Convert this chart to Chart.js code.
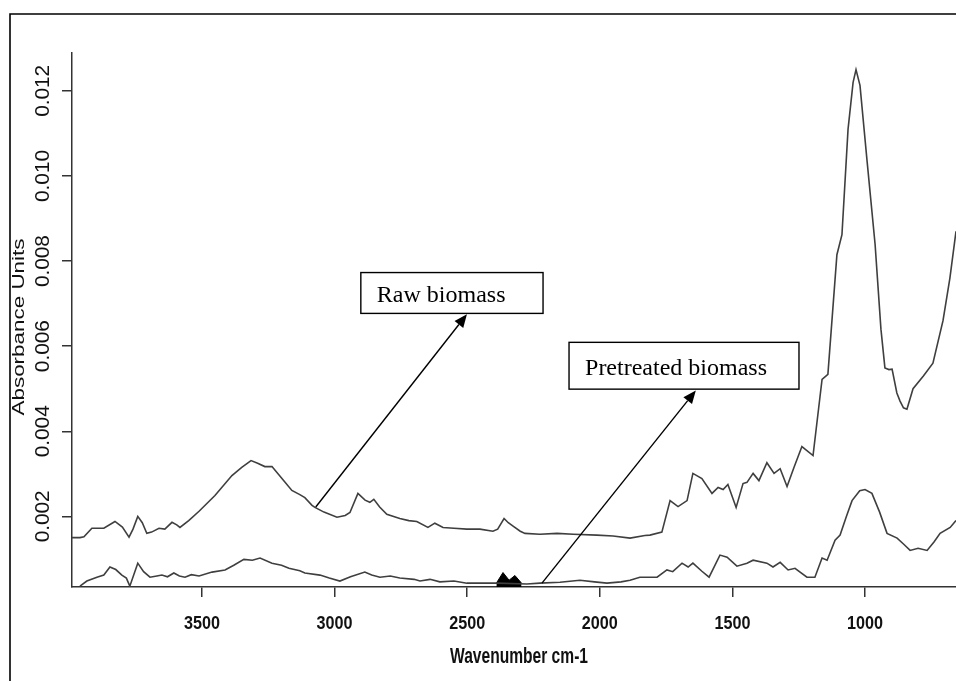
<!DOCTYPE html>
<html>
<head>
<meta charset="utf-8">
<script src="https://cdn.jsdelivr.net/npm/chart.js@4.4.1/dist/chart.umd.min.js"></script>
<style>
  html, body { margin: 0; padding: 0; background: #fff; }
  canvas { display: block; }
</style>
</head>
<body>
<canvas id="ftir-chart" width="956" height="681"></canvas>
<script>
// wavenumber (cm-1) / absorbance pairs
const rawWavenumbers = [
  3990, 3960, 3945, 3915, 3870, 3828, 3800, 3775, 3760, 3742, 3725, 3708, 3690, 3662, 3640,
  3613, 3595, 3583, 3550, 3511, 3451, 3387, 3350, 3315, 3290, 3263, 3236, 3200, 3161, 3131,
  3112, 3085, 3074, 3040, 2991, 2960, 2942, 2912, 2885, 2867, 2852, 2830, 2803, 2754, 2720,
  2690, 2648, 2622, 2591, 2550, 2501, 2452, 2403, 2385, 2361, 2345, 2327, 2300, 2282, 2226,
  2161, 2100, 2011, 1950, 1886, 1830, 1811, 1766, 1735, 1705, 1671, 1649, 1615, 1577, 1554,
  1535, 1517, 1486, 1460, 1445, 1422, 1400, 1370, 1343, 1320, 1294, 1268, 1238, 1196, 1170,
  1162, 1140, 1106, 1087, 1064, 1045, 1034, 1019, 992, 962, 940, 925, 910, 898, 880,
  868, 855, 842, 819, 780, 744, 706, 680, 657
];
const rawAbsorbance = [
  0.00150, 0.00150, 0.00152, 0.00172, 0.00172, 0.00188, 0.00175, 0.00151, 0.00170, 0.00200, 0.00185, 0.00160, 0.00163, 0.00172, 0.00170,
  0.00186, 0.00180, 0.00174, 0.00190, 0.00212, 0.00249, 0.00296, 0.00315, 0.00331, 0.00325, 0.00317, 0.00317, 0.00290, 0.00261, 0.00251,
  0.00244, 0.00226, 0.00221, 0.00210, 0.00198, 0.00202, 0.00209, 0.00254, 0.00238, 0.00233, 0.00240, 0.00222, 0.00205, 0.00195, 0.00190,
  0.00188, 0.00174, 0.00184, 0.00174, 0.00172, 0.00170, 0.00170, 0.00165, 0.00170, 0.00195, 0.00185, 0.00177, 0.00165, 0.00160, 0.00158,
  0.00160, 0.00158, 0.00156, 0.00154, 0.00149, 0.00155, 0.00156, 0.00163, 0.00237, 0.00223, 0.00237, 0.00301, 0.00289, 0.00254, 0.00268,
  0.00263, 0.00275, 0.00221, 0.00277, 0.00280, 0.00301, 0.00284, 0.00326, 0.00301, 0.00312, 0.00270, 0.00315, 0.00364, 0.00343, 0.00480,
  0.00522, 0.00534, 0.00815, 0.00862, 0.01110, 0.01220, 0.01250, 0.01213, 0.01033, 0.00839, 0.00640, 0.00549, 0.00545, 0.00546, 0.00490,
  0.00471, 0.00455, 0.00452, 0.00500, 0.00530, 0.00560, 0.00660, 0.00760, 0.00870
];

const pretreatedWavenumbers = [
  3960, 3934, 3896, 3870, 3847, 3825, 3802, 3785, 3772, 3742, 3720, 3696, 3670, 3651, 3630,
  3606, 3585, 3564, 3540, 3511, 3462, 3413, 3380, 3342, 3310, 3281, 3236, 3200, 3172, 3131,
  3112, 3055, 3020, 2980, 2940, 2886, 2860, 2829, 2790, 2754, 2700, 2678, 2640, 2603, 2550,
  2501, 2388, 2275, 2226, 2150, 2075, 2020, 1973, 1920, 1886, 1849, 1784, 1747, 1725, 1690,
  1667, 1649, 1615, 1588, 1547, 1520, 1483, 1445, 1422, 1370, 1347, 1320, 1290, 1264, 1219,
  1189, 1162, 1143, 1113, 1094, 1070, 1049, 1020, 1000, 974, 945, 917, 879, 855, 830,
  800, 766, 740, 717, 679, 657
];
const pretreatedAbsorbance = [
  0.00036, 0.00048, 0.00057, 0.00062, 0.00081, 0.00075, 0.00062, 0.00055, 0.00036, 0.00090, 0.00070, 0.00057, 0.00060, 0.00062, 0.00058,
  0.00067, 0.00060, 0.00057, 0.00063, 0.00060, 0.00069, 0.00074, 0.00085, 0.00099, 0.00097, 0.00102, 0.00090, 0.00085, 0.00078, 0.00072,
  0.00067, 0.00062, 0.00055, 0.00048, 0.00058, 0.00069, 0.00062, 0.00057, 0.00060, 0.00055, 0.00052, 0.00048, 0.00052, 0.00046, 0.00048,
  0.00043, 0.00043, 0.00041, 0.00043, 0.00045, 0.00050, 0.00046, 0.00043, 0.00046, 0.00050, 0.00057, 0.00057, 0.00074, 0.00070, 0.00090,
  0.00081, 0.00090, 0.00071, 0.00057, 0.00109, 0.00104, 0.00083, 0.00090, 0.00097, 0.00090, 0.00081, 0.00092, 0.00074, 0.00078, 0.00057,
  0.00057, 0.00102, 0.00097, 0.00144, 0.00156, 0.00200, 0.00237, 0.00260, 0.00263, 0.00254, 0.00210, 0.00160, 0.00149, 0.00135, 0.00120,
  0.00125, 0.00120, 0.00140, 0.00160, 0.00174, 0.00190
];

// small filled CO2 band on the pretreated trace
const co2Wavenumbers = [2390, 2365, 2342, 2320, 2295];
const co2Absorbance = [0.00043, 0.00068, 0.00050, 0.00061, 0.00043];

const xTicks = [3500, 3000, 2500, 2000, 1500, 1000];
const yTicks = [0.002, 0.004, 0.006, 0.008, 0.010, 0.012];

const notes = [
  { label: "Raw biomass", box: [2901, 0.00773, 2214, 0.00677], tail: [3071, 0.00222], tip: [2501, 0.00675] },
  { label: "Pretreated biomass", box: [2116, 0.00609, 1249, 0.00499], tail: [2218, 0.00043], tip: [1638, 0.00496] },
];

const Config = {
  line: "#3f3f3f",
  axis: "#333333",
  ink: "#111111",
};

const toPoints = (xs, ys) => xs.map((x, i) => ({ x, y: ys[i] }));

// text squeezed/stretched to a given width, like the original plot's fonts
const drawText = (ctx, text, x, y, font, width, angle = 0) => {
  ctx.save();
  ctx.font = font;
  ctx.textAlign = "center";
  ctx.textBaseline = "middle";
  ctx.translate(x, y);
  ctx.rotate(angle);
  const w = ctx.measureText(text).width;
  if (width) ctx.scale(width / w, 1);
  ctx.fillText(text, 0, 0);
  ctx.restore();
};

const overlay = {
  id: "overlay",
  beforeDraw(chart) {
    const c = chart.ctx;
    c.save();
    c.fillStyle = "#fff";
    c.fillRect(0, 0, chart.width, chart.height);
    // figure frame (cropped on the right and bottom)
    c.strokeStyle = "#000";
    c.lineWidth = 1.6;
    c.beginPath();
    c.moveTo(10, chart.height);
    c.lineTo(10, 14);
    c.lineTo(chart.width, 14);
    c.stroke();
    c.restore();
  },
  afterDraw(chart) {
    const c = chart.ctx;
    const { x, y } = chart.scales;
    c.save();
    c.fillStyle = Config.ink;

    yTicks.forEach((v) => {
      drawText(c, v.toFixed(3), 43, y.getPixelForValue(v), '21px "Liberation Sans", Arial, sans-serif', 52, -Math.PI / 2);
    });
    xTicks.forEach((v) => {
      drawText(c, String(v), x.getPixelForValue(v), 624, 'bold 18px "Liberation Sans", Arial, sans-serif', 36);
    });
    drawText(c, "Wavenumber cm-1", (x.left + x.right) / 2 + 5, 657, 'bold 22px "Liberation Sans", Arial, sans-serif', 138);
    drawText(c, "Absorbance Units", 19, 327, '17px "Liberation Sans", Arial, sans-serif', 177, -Math.PI / 2);

    // callout boxes with arrows
    c.strokeStyle = "#000";
    c.lineWidth = 1.4;
    notes.forEach((n) => {
      const bx0 = x.getPixelForValue(n.box[0]);
      const by0 = y.getPixelForValue(n.box[1]);
      const bx1 = x.getPixelForValue(n.box[2]);
      const by1 = y.getPixelForValue(n.box[3]);
      c.fillStyle = "#fff";
      c.fillRect(bx0, by0, bx1 - bx0, by1 - by0);
      c.strokeRect(bx0, by0, bx1 - bx0, by1 - by0);
      c.fillStyle = "#000";
      c.font = '24px "Liberation Serif", "Times New Roman", serif';
      c.textAlign = "left";
      c.textBaseline = "alphabetic";
      c.fillText(n.label, bx0 + 16, (by0 + by1) / 2 + 9);

      const tx = x.getPixelForValue(n.tail[0]);
      const ty = y.getPixelForValue(n.tail[1]);
      const hx = x.getPixelForValue(n.tip[0]);
      const hy = y.getPixelForValue(n.tip[1]);
      const a = Math.atan2(hy - ty, hx - tx);
      const len = 13, half = 5.5;
      c.beginPath();
      c.moveTo(tx, ty);
      c.lineTo(hx - len * Math.cos(a), hy - len * Math.sin(a));
      c.stroke();
      c.beginPath();
      c.moveTo(hx, hy);
      c.lineTo(hx - len * Math.cos(a) + half * Math.sin(a), hy - len * Math.sin(a) - half * Math.cos(a));
      c.lineTo(hx - len * Math.cos(a) - half * Math.sin(a), hy - len * Math.sin(a) + half * Math.cos(a));
      c.closePath();
      c.fill();
    });
    c.restore();
  },
};

new Chart(document.getElementById("ftir-chart"), {
  type: "line",
  data: {
    datasets: [
      {
        label: "Raw biomass",
        data: toPoints(rawWavenumbers, rawAbsorbance),
        borderColor: Config.line,
        borderWidth: 1.6,
        pointRadius: 0,
        tension: 0,
      },
      {
        label: "Pretreated biomass",
        data: toPoints(pretreatedWavenumbers, pretreatedAbsorbance),
        borderColor: Config.line,
        borderWidth: 1.6,
        pointRadius: 0,
        tension: 0,
      },
      {
        label: "CO2",
        data: toPoints(co2Wavenumbers, co2Absorbance),
        borderColor: "#000",
        backgroundColor: "#000",
        borderWidth: 1,
        pointRadius: 0,
        tension: 0,
        fill: "start",
      },
    ],
  },
  options: {
    responsive: false,
    animation: false,
    devicePixelRatio: 1,
    layout: { padding: { left: 0, top: 53, right: 0, bottom: 0 } },
    plugins: {
      legend: { display: false },
      tooltip: { enabled: false },
    },
    scales: {
      x: {
        type: "linear",
        reverse: true,
        min: 657,
        max: 3990,
        afterBuildTicks: (s) => { s.ticks = xTicks.map((value) => ({ value })); },
        afterFit: (s) => { s.height = 94; },
        ticks: { display: false },
        grid: { drawOnChartArea: false, drawTicks: true, tickLength: 10, color: Config.axis, lineWidth: 1.5 },
        border: { display: true, color: Config.axis, width: 1.5 },
      },
      y: {
        type: "linear",
        min: 0.00034,
        max: 0.01289,
        afterBuildTicks: (s) => { s.ticks = yTicks.map((value) => ({ value })); },
        afterFit: (s) => { s.width = 72; },
        ticks: { display: false },
        grid: { drawOnChartArea: false, drawTicks: true, tickLength: 10, color: Config.axis, lineWidth: 1.5 },
        border: { display: true, color: Config.axis, width: 1.5 },
      },
    },
  },
  plugins: [overlay],
});
</script>
</body>
</html>
